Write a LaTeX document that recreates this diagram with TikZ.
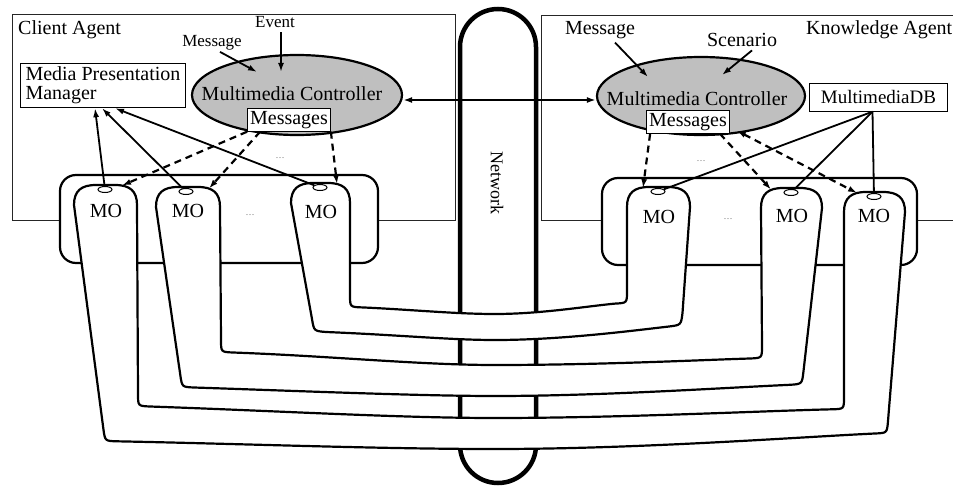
\documentclass[tikz,border=0pt]{standalone}
\usepackage{fontspec}
\setmainfont{Liberation Serif}
\usetikzlibrary{arrows.meta,shapes.geometric,calc}

% rounded top of an MO tab: from (left wall, top+20) to (right wall, top+20)
\newcommand{\tabtop}[3]{.. controls (#1,{#3+6}) and ({#1+7},#3) .. ({#1+22},#3) -- ({#2-22},#3) .. controls ({#2-7},#3) and (#2,{#3+6}) .. (#2,{#3+20})}

\begin{document}
\begin{tikzpicture}[x=1pt,y=-1pt,
  every node/.style={font=\fontsize{20}{20}\selectfont, inner sep=0pt},
  agent/.style={draw=black!85, line width=0.8pt},
  tube/.style={draw, fill=white, line width=2.2pt, line join=round},
  tray/.style={draw, fill=white, line width=2.2pt, rounded corners=16pt},
  netpipe/.style={draw, fill=white, line width=4.5pt, rounded corners=38pt},
  ctrl/.style={ellipse, draw, line width=2.2pt, fill=black!25, inner sep=0pt},
  label box/.style={draw, fill=white, line width=1pt, inner sep=2.5pt},
  port/.style={ellipse, draw, fill=white, line width=1pt, minimum width=14pt, minimum height=6pt},
  flow/.style={line width=1.8pt, -{Latex[length=9pt,width=6pt]}},
  link/.style={line width=1.8pt},
  msgflow/.style={line width=2.2pt, dash pattern=on 7pt off 5pt, -{Latex[length=9pt,width=6pt]}},
  smalltext/.style={font=\fontsize{17}{17}\selectfont},
  gapdots/.style={font=\fontsize{9}{9}\selectfont, text=black!60}
]
\useasboundingbox (0,0) rectangle (953,487);

% agent frames
\draw[agent] (12,14) rectangle (455,220);
\draw[agent] (953,15) -- (541,15) -- (541,220) -- (953,220);

% network pipe
\draw[netpipe] (460,9) rectangle (536,483);

% MO trays
\draw[tray] (60,175) rectangle (378,263);
\draw[tray] (602,178) rectangle (917,265);

% U-shaped channels between media objects (they pass over the network)
% MO3 <-> MO4
\draw[tube] (291,203) \tabtop{291}{350}{183}
  -- (350,295) .. controls (350,307) .. (362,307.4)
  .. controls (410,309.5) and (455,314) .. (495,314)
  .. controls (540,314) and (585,306.5) .. (615,303.6)
  .. controls (627,303) .. (627,291) -- (627,207)
  \tabtop{627}{690}{187}
  -- (682.5,313) .. controls (681,325) .. (669,326.5)
  .. controls (630,331) and (560,340) .. (495,340)
  .. controls (450,340) and (400,335) .. (326,332)
  .. controls (314,331) .. (312,319) -- cycle;
% MO2 <-> MO5
\draw[tube] (156,207) \tabtop{156}{220}{187}
  -- (221,340) .. controls (221,352) .. (233,352.5)
  .. controls (330,356) and (420,365) .. (495,365)
  .. controls (600,365) and (700,360) .. (750,358.5)
  .. controls (762,358) .. (762,346) -- (761,208)
  \tabtop{761}{822}{188}
  -- (803.4,372) .. controls (802,384) .. (790,384.8)
  .. controls (720,388) and (600,396) .. (495,396)
  .. controls (420,396) and (300,391) .. (194,387.5)
  .. controls (182,387) .. (180.3,375) -- cycle;
% MO1 <-> MO6
\draw[tube] (74,205) \tabtop{74}{137}{185}
  -- (138,394) .. controls (138,406) .. (150,406.5)
  .. controls (280,411) and (400,418) .. (495,418)
  .. controls (620,418) and (760,411) .. (832,409.3)
  .. controls (844,409) .. (844,397) -- (844,212)
  \tabtop{844}{905}{192}
  -- (888,421) .. controls (887,433) .. (875,433.5)
  .. controls (800,437) and (640,449) .. (495,449)
  .. controls (380,449) and (250,444) .. (117,441.3)
  .. controls (105,441) .. (103.4,429) -- cycle;

% ports of the media objects
\node[port] (p1) at (105,189.5) {};
\node[port] (p2) at (186,191.5) {};
\node[port] (p3) at (320,187.5) {};
\node[port] (p4) at (658,191.5) {};
\node[port] (p5) at (791,192.5) {};
\node[port] (p6) at (874,196.5) {};

\node[anchor=base] (mo1) at (106,217) {MO};
\node[anchor=base] (mo2) at (188,217) {MO};
\node[anchor=base] (mo3) at (321,218) {MO};
\node[anchor=base] (mo4) at (659,223) {MO};
\node[anchor=base] (mo5) at (792,222) {MO};
\node[anchor=base] (mo6) at (874,222) {MO};

% tab shoulders hit by the message arrows
\coordinate (t1) at (122,185.5);
\coordinate (t2) at (209,188.5);
\coordinate (t3) at (337,184);
\coordinate (t4) at (643,188);
\coordinate (t5) at (771,189.5);
\coordinate (t6) at (857,193);

% controllers
\node[ctrl, minimum width=210pt, minimum height=80pt] (mcL) at (297,95) {};
\node[ctrl, minimum width=208pt, minimum height=78pt] (mcR) at (701,96) {};
\node[anchor=base] (mcLtext) at (292,100) {Multimedia Controller};
\node[anchor=base] (mcRtext) at (697,105) {Multimedia Controller};
\node[label box] (msgsL) at (289,120) {Messages};
\node[label box] (msgsR) at (688,122) {Messages};

% other boxes
\node[label box, align=left, anchor=north west, inner xsep=5pt, inner ysep=3.5pt,
      font=\fontsize{20}{19}\selectfont] (mpm) at (20,63) {Media Presentation\\Manager};
\node[label box, inner xsep=11pt, inner ysep=7pt, font=\fontsize{19}{19}\selectfont] (db) at (878.5,97.5) {MultimediaDB};

% labels
\node[rotate=-90, font=\fontsize{18}{18}\selectfont] (netlabel) at (497,183) {Network};
\node[anchor=base west] (client) at (18,35) {Client Agent};
\node[anchor=base west] (know) at (806,35) {Knowledge Agent};
\node[smalltext, anchor=base] (event) at (275,28) {Event};
\node[smalltext, anchor=base] (msgL) at (212,47) {Message};
\node[anchor=base] (msgR) at (600,35) {Message};
\node[anchor=base] (scen) at (742,47) {Scenario};

\node[gapdots] (d1) at (280,158) {\ldots};
\node[gapdots] (d2) at (250,215) {\ldots};
\node[gapdots] (d3) at (701,161) {\ldots};
\node[gapdots] (d4) at (728,219) {\ldots};

% inputs to the controllers
\coordinate (evIn) at (281,72);
\coordinate (msgLIn) at (257,72);
\coordinate (msgRIn) at (648,77);
\coordinate (scenIn) at (722,75);
\draw[flow] ([xshift=6pt,yshift=-4pt]event.south) -- (evIn);
\draw[flow] ([xshift=8pt,yshift=-1pt]msgL.south) -- (msgLIn);
\draw[flow] ([xshift=15pt,yshift=-3pt]msgR.south) -- (msgRIn);
\draw[flow] ([xshift=10pt,yshift=-3pt]scen.south) -- (scenIn);

% link across the network
\draw[line width=1.8pt, {Latex[length=9pt,width=6pt]}-{Latex[length=9pt,width=6pt]}]
  ([yshift=-5pt]mcL.east) -- ([yshift=-4pt]mcR.west);

% media objects report to the presentation manager
\draw[flow] (p1) -- ([xshift=75pt]mpm.south west);
\draw[flow] (p2) -- ([xshift=82pt]mpm.south west);
\draw[flow] (p3) -- ([xshift=95pt]mpm.south west);

% database feeds the media objects
\draw[link] ([xshift=-6pt]db.south) -- (p4);
\draw[link] ([xshift=-6pt]db.south) -- (p5);
\draw[link] ([xshift=-6pt]db.south) -- (p6);

% messages dispatched to the media objects
\draw[msgflow] (msgsL.south west) -- (t1);
\draw[msgflow] ([xshift=13pt]msgsL.south west) -- (t2);
\draw[msgflow] (msgsL.south east) -- (t3);
\draw[msgflow] ([xshift=4pt]msgsR.south west) -- (t4);
\draw[msgflow] ([xshift=-10pt]msgsR.south east) -- (t5);
\draw[msgflow, {Latex[length=9pt,width=6pt]}-{Latex[length=9pt,width=6pt]}] ([xshift=7pt,yshift=3pt]msgsR.south east) -- (t6);
\end{tikzpicture}
\end{document}
